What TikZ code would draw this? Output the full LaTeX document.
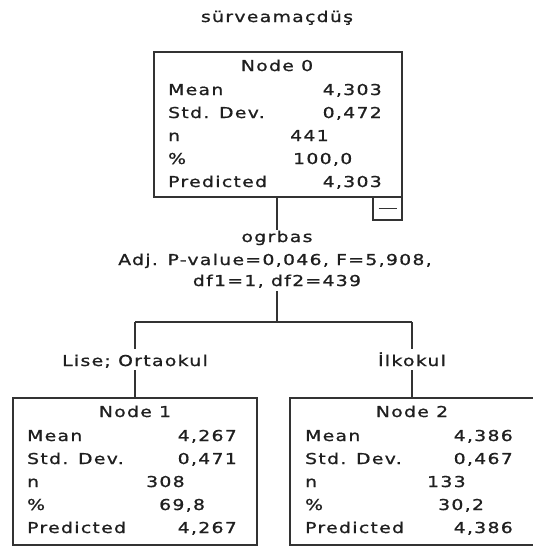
\documentclass[tikz,border=0pt]{standalone}
\usepackage{fontspec}
\setmainfont{DejaVu Sans}[FakeStretch=1.25,LetterSpace=9,FakeBold=1]
\begin{document}
\begin{tikzpicture}[x=1pt,y=-1pt,
  font=\fontsize{15}{17}\selectfont,
  every node/.style={text=black!88},
  box/.style={draw=black!80, line width=1.5pt, inner sep=0pt},
  conn/.style={draw=black!80, line width=1.4pt},
  lt/.style={inner sep=0pt, anchor=base west},
  rt/.style={inner sep=0pt, anchor=base east},
  ct/.style={inner sep=0pt, anchor=base},
  stat/.style={anchor=base, text height=10pt, text depth=3pt, inner xsep=0pt, inner ysep=2pt},
  edgelbl/.style={anchor=base, text height=15pt, text depth=2pt, inner xsep=0pt, inner ysep=2pt}]
\useasboundingbox (0,0) rectangle (533,547);

% title
\node[ct] (title) at (277,22) {sürveamaçdüş};

% Node 0
\node[box, minimum width=248pt, minimum height=145pt] (n0) at (278,124.5) {};
\node[box, minimum width=29pt, minimum height=23pt] (m0) at (387.5,208.5) {};
\draw[line width=1.2pt, draw=black!80] (m0.center) +(-9,0) -- +(9,0);
\node[ct] (n0t) at (277,71) {Node 0};
\node[lt] (n0a) at (168,95) {Mean};
\node[lt] (n0b) at (168,118) {Std. Dev.};
\node[lt] (n0c) at (168,141) {n};
\node[lt] (n0d) at (168,164) {\%};
\node[lt] (n0e) at (168,187) {Predicted};
\node[rt] (n0av) at (382,95) {4,303};
\node[rt] (n0bv) at (382,118) {0,472};
\node[lt] (n0cv) at (290,141) {441};
\node[lt] (n0dv) at (293,164) {100,0};
\node[rt] (n0ev) at (382,187) {4,303};

% split info
\node[stat] (var) at (277,242) {ogrbas};
\node[stat] (adj) at (275,265) {Adj. P-value=0,046, F=5,908,};
\node[stat] (df) at (277,286) {df1=1, df2=439};
\coordinate (j) at (277,322);
\coordinate (j1) at (135,322);
\coordinate (j2) at (412,322);

% edge labels
\node[edgelbl] (e1) at (135,366) {Lise; Ortaokul};
\node[edgelbl] (e2) at (412,366) {İlkokul};

% Node 1
\node[box, minimum width=244pt, minimum height=147pt] (n1) at (135,471.5) {};
\node[ct] (n1t) at (135,417) {Node 1};
\node[lt] (n1a) at (27,441) {Mean};
\node[lt] (n1b) at (27,464) {Std. Dev.};
\node[lt] (n1c) at (27,487) {n};
\node[lt] (n1d) at (27,510) {\%};
\node[lt] (n1e) at (27,533) {Predicted};
\node[rt] (n1av) at (237,441) {4,267};
\node[rt] (n1bv) at (237,464) {0,471};
\node[lt] (n1cv) at (146,487) {308};
\node[lt] (n1dv) at (159,510) {69,8};
\node[rt] (n1ev) at (237,533) {4,267};

% Node 2
\node[box, minimum width=244pt, minimum height=147pt] (n2) at (412,471.5) {};
\node[ct] (n2t) at (412,417) {Node 2};
\node[lt] (n2a) at (305,441) {Mean};
\node[lt] (n2b) at (305,464) {Std. Dev.};
\node[lt] (n2c) at (305,487) {n};
\node[lt] (n2d) at (305,510) {\%};
\node[lt] (n2e) at (305,533) {Predicted};
\node[rt] (n2av) at (513,441) {4,386};
\node[rt] (n2bv) at (513,464) {0,467};
\node[lt] (n2cv) at (427,487) {133};
\node[lt] (n2dv) at (438,510) {30,2};
\node[rt] (n2ev) at (513,533) {4,386};

% connectors
\draw[conn] (n0.south -| var.north) -- (var.north);
\draw[conn] (df.south) -- (j);
\draw[conn] (j1) -- (j2);
\draw[conn] (j1) -- (e1.north);
\draw[conn] (j2) -- (e2.north);
\draw[conn] (e1.south) -- (e1.south |- n1.north);
\draw[conn] (e2.south) -- (e2.south |- n2.north);
\end{tikzpicture}
\end{document}
